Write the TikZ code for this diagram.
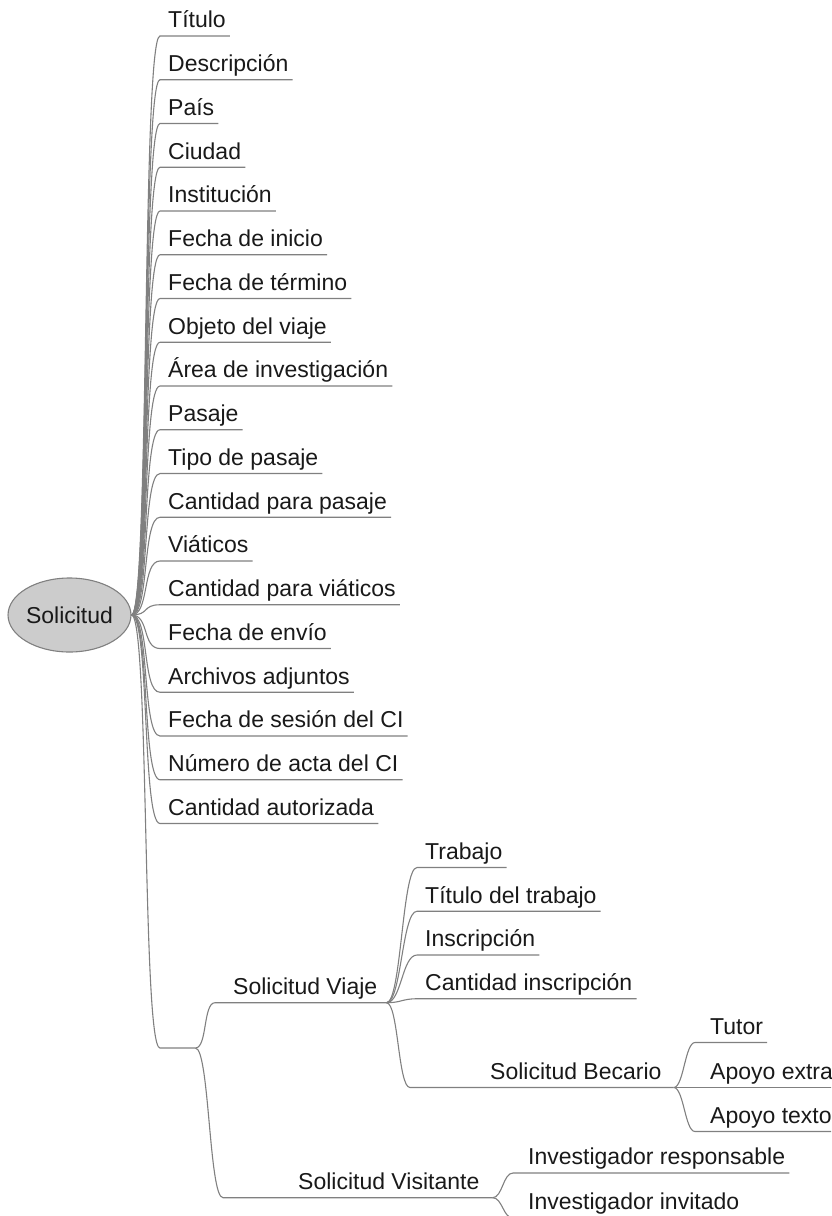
\documentclass[tikz,border=0pt]{standalone}
\usepackage{fontspec}
\setmainfont{Liberation Sans}
\usetikzlibrary{shapes.geometric}
\begin{document}
\begin{tikzpicture}[x=1pt,y=-1pt,
  font=\fontsize{23}{27}\selectfont,
  link/.style={draw=black!50, line width=1.1pt},
  topic/.style={anchor=south west, inner xsep=4pt, inner ysep=0pt,
    text height=17pt, text depth=8pt, text=black!90,
    execute at begin node={\hspace*{#1}}},
  topic/.default=4pt,
  rpad/.style={execute at end node={\hspace*{#1}}},
  central/.style={ellipse, draw=black!50, fill=black!20, line width=1.1pt,
    minimum width=115pt, minimum height=74pt, inner sep=0pt, text=black!90}
]
\useasboundingbox (0,0) rectangle (831,1216);
\clip (0,0) rectangle (831,1216);

% central topic
\node[central] (root) at (69.5,615) {Solicitud};

% attributes of the request
\foreach \t [count=\i] in {Título, Descripción, País, Ciudad, Institución,
  Fecha de inicio, Fecha de término, Objeto del viaje, Área de investigación,
  Pasaje, Tipo de pasaje, Cantidad para pasaje, Viáticos,
  Cantidad para viáticos, Fecha de envío, Archivos adjuntos,
  Fecha de sesión del CI, Número de acta del CI, Cantidad autorizada} {
  \node[topic] (l\i) at (160, {36+43.75*(\i-1)}) {\t};
  \draw[link] (root.east) .. controls +(18,0) and +(-18,0) .. (l\i.south west)
    -- (l\i.south east);
}

% unnamed hub for the subtypes
\node[anchor=south west, inner sep=0pt, text height=0pt, text depth=0pt,
  minimum width=35pt] (hub) at (160,1048) {};
\draw[link] (root.east) .. controls +(18,0) and +(-18,0) .. (hub.south west)
  -- (hub.south east);

% travel request
\node[topic=14pt, rpad=5pt] (viaje) at (215,1002.7) {Solicitud Viaje};
\draw[link] (hub.south east) .. controls +(12,0) and +(-12,0) .. (viaje.south west)
  -- (viaje.south east);

\foreach \t [count=\i] in {Trabajo, Título del trabajo, Inscripción,
  Cantidad inscripción} {
  \node[topic] (v\i) at (417, {867.5+43.75*(\i-1)}) {\t};
  \draw[link] (viaje.south east) .. controls +(15,0) and +(-15,0) .. (v\i.south west)
    -- (v\i.south east);
}

% scholarship request
\node[topic=23pt, rpad=8pt] (becario) at (463,1087.5) {Solicitud Becario};
\draw[link] (viaje.south east) .. controls +(12,0) and +(-12,0)
  .. ([xshift=-53pt]becario.south west) -- (becario.south east);

\node[topic=11pt] (b1) at (695,1042.5) {Tutor};
\node[topic=11pt] (b2) at (695,1087.5) {Apoyo extra};
\node[topic=11pt] (b3) at (695,1131.5) {Apoyo texto};
\foreach \n in {b1,b2,b3}
  \draw[link] (becario.south east) .. controls +(10,0) and +(-10,0) .. (\n.south west)
    -- (\n.south east);

% visitor request
\node[topic=26pt, rpad=9pt] (visit) at (268,1197.7) {Solicitud Visitante};
\draw[link] (hub.south east) .. controls +(14,0) and +(-14,0)
  .. ([xshift=-45pt]visit.south west) -- (visit.south east);

\node[topic=11pt] (s1) at (513,1173) {Investigador responsable};
\node[topic=11pt] (s2) at (513,1218) {Investigador invitado};
\foreach \n in {s1,s2}
  \draw[link] (visit.south east) .. controls +(10,0) and +(-10,0) .. (\n.south west)
    -- (\n.south east);
\end{tikzpicture}
\end{document}
